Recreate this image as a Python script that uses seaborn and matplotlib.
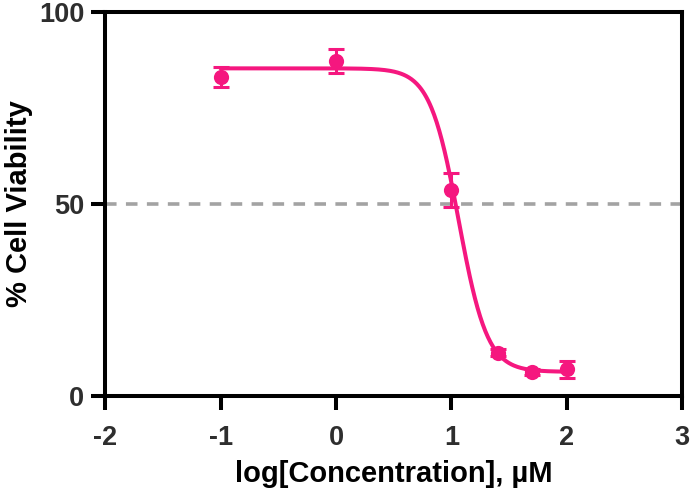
import numpy as np
import pandas as pd
import matplotlib
matplotlib.use("Agg")
import matplotlib.pyplot as plt
import seaborn as sns

# Data
log_conc = [-1.0, 0.0, 1.0, 1.4, 1.7, 2.0]
viability = [83.0, 87.2, 53.6, 11.3, 6.2, 7.0]
sem = [2.6, 3.1, 4.4, 1.0, 0.8, 2.2]

# Fitted 4-parameter logistic curve parameters
fit_top = 85.3
fit_bottom = 6.3
fit_log_ic50 = 1.062
fit_hill = 3.5

x_ticks = [-2, -1, 0, 1, 2, 3]
y_ticks = [0, 50, 100]

pink = "#F5177F"

sns.set_theme(style="white")
plt.rcParams['font.family'] = ['Liberation Sans', 'DejaVu Sans']

fig = plt.figure(figsize=(6.92, 4.95), dpi=100)
ax = fig.add_axes([0.152, 0.2, 0.834, 0.776])

xf = np.linspace(min(log_conc), max(log_conc), 400)
yf = fit_bottom + (fit_top - fit_bottom) / (1 + 10 ** ((xf - fit_log_ic50) * fit_hill))
curve = pd.DataFrame({"x": xf, "y": yf})
pts = pd.DataFrame({"x": log_conc, "y": viability, "e": sem})

ax.axhline(50, color="#A3A3A3", lw=2.6, ls=(0, (3.2, 2.6)), zorder=1)
sns.lineplot(data=curve, x="x", y="y", ax=ax, color=pink, lw=2.9, zorder=3)
ax.errorbar(pts["x"], pts["y"], yerr=pts["e"], fmt="none", ecolor=pink,
            elinewidth=2.2, capsize=5.5, capthick=2.2, zorder=4)
sns.scatterplot(data=pts, x="x", y="y", ax=ax, color=pink, s=120,
                edgecolor=pink, linewidth=0, zorder=5)

ax.set_xlim(-2, 3)
ax.set_ylim(0, 100)
ax.set_xticks(x_ticks)
ax.set_xticklabels([str(t) for t in x_ticks])
ax.set_yticks(y_ticks)
ax.set_yticklabels([str(t) for t in y_ticks])

for s in ax.spines.values():
    s.set_color("black")
    s.set_linewidth(2.9)
    s.set_visible(True)

ax.tick_params(axis="both", which="major", direction="out", length=10, width=2.9,
               color="black", labelsize=19.5, labelcolor="#2E2E2E",
               bottom=True, left=True, top=False, right=False)
ax.tick_params(axis="x", pad=11)
ax.tick_params(axis="y", pad=5)
for lab in ax.get_xticklabels() + ax.get_yticklabels():
    lab.set_fontweight("bold")

ax.set_xlabel("log[Concentration], µM", fontsize=21, fontweight="bold", color="black", labelpad=6)
ax.set_ylabel("% Cell Viability", fontsize=21, fontweight="bold", color="black", labelpad=4)

fig.savefig("out.png", dpi=100)
